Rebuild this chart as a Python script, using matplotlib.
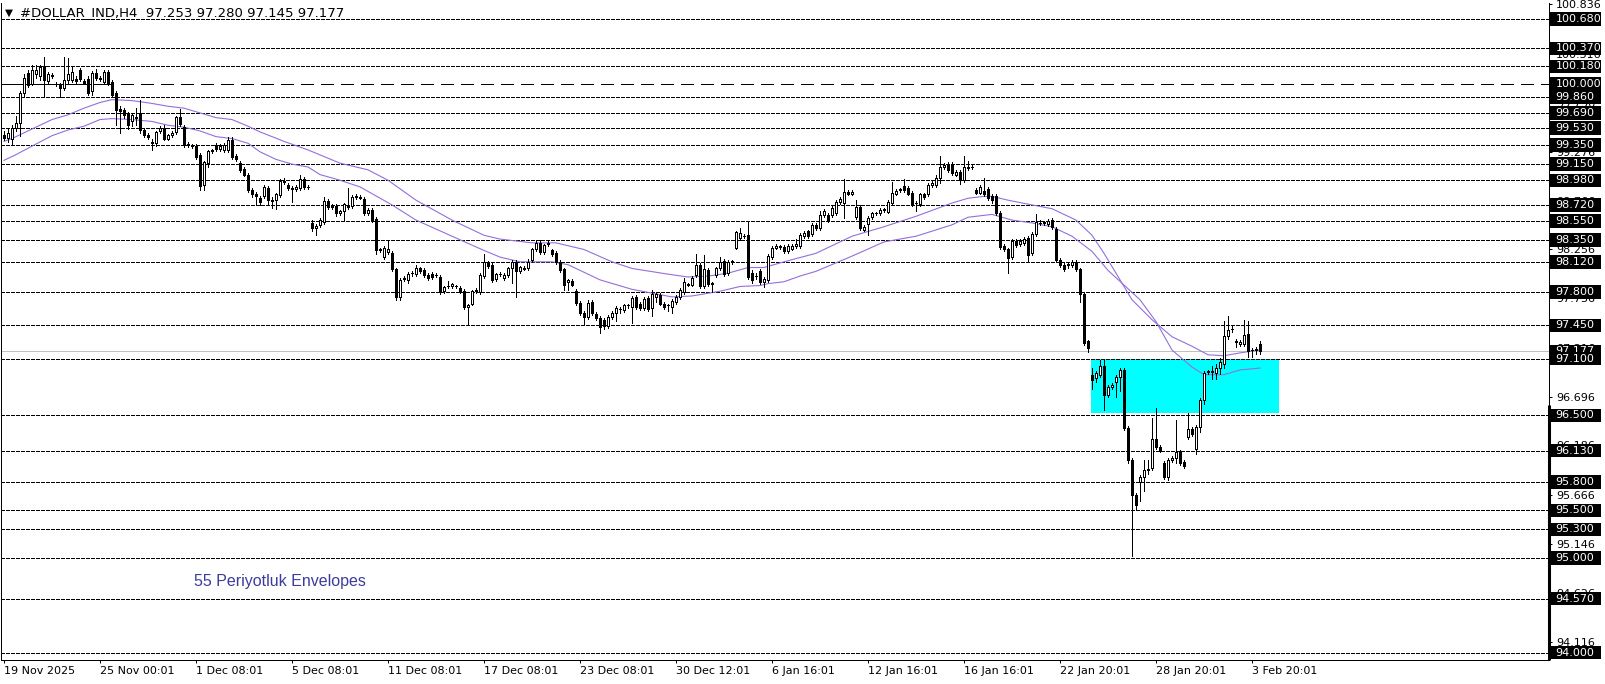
import matplotlib
matplotlib.use("Agg")
import matplotlib.pyplot as plt
from matplotlib.patches import Rectangle
from matplotlib.transforms import blended_transform_factory

# H4 candles, 19 Nov 2025 -> 4 Feb 2026
opens = [
    99.46, 99.43, 99.42, 99.53, 99.58, 99.90, 100.11, 100.00, 100.10, 100.08,
    100.18, 100.03, 100.09, 100.00, 99.99, 99.95, 100.04, 100.04, 100.05, 100.14,
    100.03, 100.05, 99.92, 100.11, 100.06, 100.02, 100.12, 100.02, 99.90, 99.73,
    99.72, 99.68, 99.60, 99.65, 99.68, 99.51, 99.46, 99.38, 99.37, 99.50,
    99.53, 99.42, 99.46, 99.49, 99.65, 99.54, 99.36, 99.34, 99.34, 99.25,
    98.93, 99.16, 99.29, 99.35, 99.31, 99.30, 99.30, 99.40, 99.24, 99.16,
    99.10, 99.04, 98.88, 98.84, 98.79, 98.81, 98.90, 98.77, 98.77, 98.82,
    98.96, 98.93, 98.90, 98.89, 98.90, 98.99, 98.91, 98.53, 98.48, 98.51,
    98.54, 98.76, 98.70, 98.71, 98.63, 98.66, 98.70, 98.71, 98.80, 98.80,
    98.78, 98.63, 98.67, 98.57, 98.24, 98.17, 98.22, 98.21, 98.04, 97.75,
    97.94, 97.93, 98.00, 97.99, 98.05, 98.03, 97.98, 97.99, 97.98, 97.96,
    97.81, 97.86, 97.86, 97.86, 97.84, 97.81, 97.64, 97.68, 97.81, 97.80,
    97.97, 98.11, 98.09, 97.94, 97.99, 97.95, 97.98, 98.05, 98.12, 98.02,
    98.06, 98.05, 98.14, 98.25, 98.32, 98.22, 98.31, 98.24, 98.21, 98.12,
    98.04, 97.91, 97.92, 97.81, 97.69, 97.58, 97.54, 97.70, 97.57, 97.53,
    97.51, 97.44, 97.54, 97.58, 97.62, 97.61, 97.66, 97.64, 97.75, 97.68,
    97.63, 97.74, 97.63, 97.75, 97.77, 97.68, 97.66, 97.64, 97.70, 97.75,
    97.80, 97.88, 97.88, 97.98, 98.09, 97.86, 98.03, 97.89, 97.98, 98.05,
    98.13, 98.00, 98.12, 98.27, 98.37, 98.39, 98.40, 98.00, 97.97, 98.02,
    97.91, 97.93, 98.17, 98.27, 98.28, 98.28, 98.23, 98.26, 98.29, 98.29,
    98.39, 98.44, 98.41, 98.51, 98.48, 98.61, 98.61, 98.61, 98.63, 98.75,
    98.74, 98.86, 98.84, 98.59, 98.70, 98.46, 98.52, 98.59, 98.63, 98.63,
    98.67, 98.65, 98.74, 98.84, 98.88, 98.92, 98.90, 98.85, 98.74, 98.73,
    98.83, 98.83, 98.93, 98.93, 99.00, 99.12, 99.15, 99.15, 99.04, 99.07,
    98.98, 99.11, 99.12, 98.88, 98.85, 98.87, 98.89, 98.81, 98.81, 98.64,
    98.29, 98.25, 98.17, 98.34, 98.31, 98.32, 98.37, 98.21, 98.41, 98.53,
    98.53, 98.52, 98.56, 98.47, 98.14, 98.09, 98.09, 98.09, 98.12, 98.04,
    97.78, 97.28, 96.93, 96.90, 96.93, 97.02, 96.72, 96.80, 96.85, 96.91,
    96.98, 96.37, 96.03, 95.66, 95.80, 95.85, 95.93, 95.95, 96.25, 96.17,
    96.00, 95.85, 96.03, 96.05, 96.12, 96.01, 96.27, 96.36, 96.15, 96.38,
    96.66, 96.96, 96.96, 96.95, 97.00, 97.04, 97.34, 97.41, 97.29, 97.25,
    97.25, 97.36, 97.19, 97.19, 97.253,
]
highs = [
    99.50, 99.52, 99.56, 99.66, 99.92, 100.10, 100.14, 100.20, 100.20, 100.20,
    100.28, 100.12, 100.11, 100.02, 100.01, 100.28, 100.27, 100.17, 100.08, 100.16,
    100.05, 100.08, 100.13, 100.15, 100.08, 100.14, 100.14, 100.04, 99.92, 99.76,
    99.74, 99.70, 99.69, 99.74, 99.83, 99.53, 99.48, 99.42, 99.50, 99.55,
    99.56, 99.47, 99.50, 99.66, 99.73, 99.56, 99.38, 99.36, 99.36, 99.27,
    99.18, 99.30, 99.31, 99.37, 99.36, 99.37, 99.44, 99.44, 99.26, 99.18,
    99.12, 99.06, 98.90, 98.86, 98.81, 98.93, 98.92, 98.80, 98.85, 98.99,
    99.00, 98.95, 98.92, 98.93, 99.04, 99.01, 98.93, 98.56, 98.52, 98.58,
    98.80, 98.78, 98.73, 98.73, 98.67, 98.74, 98.90, 98.82, 98.83, 98.82,
    98.80, 98.69, 98.69, 98.59, 98.27, 98.29, 98.35, 98.23, 98.06, 97.95,
    97.97, 98.01, 98.02, 98.09, 98.07, 98.05, 98.00, 98.01, 98.00, 97.98,
    97.87, 97.92, 97.90, 97.88, 97.86, 97.83, 97.68, 97.82, 97.84, 98.00,
    98.20, 98.13, 98.11, 98.00, 98.01, 98.00, 98.07, 98.14, 98.14, 98.08,
    98.08, 98.15, 98.27, 98.35, 98.35, 98.31, 98.34, 98.26, 98.23, 98.14,
    98.06, 97.94, 97.94, 97.83, 97.71, 97.60, 97.72, 97.72, 97.59, 97.55,
    97.53, 97.56, 97.60, 97.65, 97.64, 97.68, 97.68, 97.76, 97.77, 97.70,
    97.75, 97.76, 97.82, 97.80, 97.79, 97.70, 97.68, 97.73, 97.77, 97.84,
    97.95, 97.90, 97.97, 98.20, 98.11, 98.19, 98.05, 97.91, 98.07, 98.17,
    98.15, 98.14, 98.14, 98.45, 98.48, 98.41, 98.54, 98.03, 98.00, 98.04,
    97.96, 98.20, 98.29, 98.31, 98.30, 98.30, 98.31, 98.31, 98.36, 98.42,
    98.44, 98.46, 98.53, 98.53, 98.66, 98.68, 98.63, 98.71, 98.77, 98.80,
    98.99, 98.88, 98.88, 98.77, 98.72, 98.51, 98.60, 98.65, 98.65, 98.69,
    98.69, 98.77, 98.96, 98.89, 98.90, 98.99, 98.92, 98.87, 98.76, 98.85,
    98.85, 98.95, 98.97, 99.04, 99.24, 99.16, 99.17, 99.17, 99.09, 99.09,
    99.24, 99.18, 99.14, 98.90, 98.93, 99.00, 98.91, 98.83, 98.83, 98.66,
    98.31, 98.27, 98.36, 98.36, 98.36, 98.38, 98.39, 98.43, 98.62, 98.56,
    98.55, 98.57, 98.58, 98.49, 98.16, 98.11, 98.12, 98.14, 98.14, 98.06,
    97.80, 97.30, 97.00, 96.97, 97.09, 97.10, 96.82, 96.84, 96.93, 97.00,
    97.00, 96.39, 96.05, 95.68, 95.87, 96.03, 96.03, 96.47, 96.58, 96.19,
    96.02, 96.05, 96.07, 96.45, 96.14, 96.03, 96.53, 96.38, 96.40, 96.68,
    96.97, 96.98, 97.02, 97.04, 97.11, 97.50, 97.55, 97.44, 97.31, 97.30,
    97.51, 97.50, 97.21, 97.22, 97.280,
]
lows = [
    99.40, 99.38, 99.35, 99.50, 99.45, 99.86, 99.96, 99.98, 100.06, 100.04,
    99.87, 100.00, 100.06, 99.97, 99.86, 99.93, 99.99, 100.02, 100.00, 100.03,
    99.99, 99.88, 99.88, 100.04, 100.03, 100.00, 99.98, 99.86, 99.56, 99.48,
    99.64, 99.52, 99.55, 99.56, 99.48, 99.44, 99.42, 99.30, 99.34, 99.48,
    99.40, 99.40, 99.44, 99.47, 99.55, 99.33, 99.33, 99.32, 99.20, 98.88,
    98.88, 99.12, 99.27, 99.29, 99.29, 99.28, 99.28, 99.20, 99.18, 99.07,
    99.02, 98.86, 98.80, 98.72, 98.72, 98.79, 98.72, 98.69, 98.68, 98.80,
    98.94, 98.88, 98.75, 98.87, 98.88, 98.89, 98.89, 98.45, 98.40, 98.49,
    98.52, 98.68, 98.68, 98.60, 98.61, 98.56, 98.68, 98.69, 98.78, 98.78,
    98.61, 98.61, 98.54, 98.20, 98.22, 98.15, 98.20, 98.02, 97.72, 97.72,
    97.92, 97.90, 97.97, 97.97, 98.00, 97.96, 97.93, 97.94, 97.96, 97.78,
    97.79, 97.84, 97.84, 97.84, 97.79, 97.62, 97.46, 97.66, 97.79, 97.78,
    97.95, 98.06, 97.91, 97.92, 97.97, 97.93, 97.96, 97.90, 97.75, 98.00,
    98.03, 98.03, 98.12, 98.23, 98.20, 98.20, 98.29, 98.18, 98.10, 98.01,
    97.82, 97.82, 97.86, 97.67, 97.56, 97.46, 97.52, 97.56, 97.51, 97.37,
    97.41, 97.42, 97.52, 97.50, 97.58, 97.59, 97.63, 97.47, 97.62, 97.61,
    97.61, 97.60, 97.55, 97.70, 97.66, 97.62, 97.60, 97.58, 97.68, 97.73,
    97.78, 97.86, 97.86, 97.96, 97.84, 97.84, 97.87, 97.80, 97.96, 98.03,
    97.97, 97.98, 98.10, 98.25, 98.35, 98.37, 97.94, 97.90, 97.94, 97.89,
    97.85, 97.91, 98.15, 98.25, 98.26, 98.21, 98.21, 98.24, 98.27, 98.27,
    98.37, 98.37, 98.39, 98.46, 98.46, 98.59, 98.54, 98.59, 98.61, 98.73,
    98.58, 98.82, 98.82, 98.57, 98.46, 98.44, 98.40, 98.57, 98.61, 98.61,
    98.65, 98.63, 98.72, 98.82, 98.86, 98.86, 98.82, 98.71, 98.66, 98.71,
    98.78, 98.81, 98.91, 98.91, 98.95, 99.10, 99.07, 99.04, 99.02, 98.94,
    98.96, 99.09, 99.10, 98.83, 98.83, 98.81, 98.77, 98.74, 98.61, 98.26,
    98.23, 98.00, 98.15, 98.28, 98.29, 98.30, 98.13, 98.19, 98.39, 98.51,
    98.51, 98.50, 98.47, 98.12, 98.07, 98.02, 98.06, 98.07, 98.02, 97.70,
    97.24, 97.17, 96.78, 96.85, 96.91, 96.56, 96.70, 96.78, 96.70, 96.76,
    96.35, 96.00, 95.02, 95.50, 95.60, 95.70, 95.88, 95.93, 96.15, 96.12,
    95.83, 95.82, 96.01, 96.00, 95.98, 95.95, 96.25, 96.28, 96.09, 96.33,
    96.62, 96.94, 96.88, 96.88, 96.94, 97.00, 97.31, 97.38, 97.22, 97.23,
    97.23, 97.12, 97.12, 97.15, 97.145,
]
closes = [
    99.43, 99.48, 99.53, 99.58, 99.90, 100.06, 99.98, 100.14, 100.14, 100.17,
    100.04, 100.10, 100.08, 99.99, 99.95, 100.04, 100.10, 100.12, 100.03, 100.05,
    100.01, 99.90, 100.11, 100.06, 100.05, 100.12, 100.00, 99.88, 99.72, 99.71,
    99.67, 99.56, 99.67, 99.64, 99.51, 99.46, 99.44, 99.37, 99.49, 99.53,
    99.42, 99.46, 99.48, 99.65, 99.57, 99.35, 99.35, 99.34, 99.22, 98.92,
    99.17, 99.29, 99.30, 99.31, 99.34, 99.35, 99.40, 99.22, 99.20, 99.09,
    99.04, 98.88, 98.83, 98.81, 98.75, 98.91, 98.77, 98.76, 98.83, 98.97,
    98.97, 98.90, 98.89, 98.91, 98.99, 98.91, 98.91, 98.48, 98.50, 98.56,
    98.76, 98.70, 98.71, 98.63, 98.66, 98.73, 98.71, 98.80, 98.81, 98.79,
    98.63, 98.67, 98.56, 98.24, 98.25, 98.27, 98.26, 98.04, 97.75, 97.93,
    97.95, 97.99, 98.00, 98.05, 98.02, 97.98, 97.95, 97.96, 97.98, 97.81,
    97.85, 97.87, 97.89, 97.86, 97.81, 97.64, 97.67, 97.81, 97.82, 97.98,
    98.12, 98.08, 97.93, 97.99, 97.99, 97.98, 98.05, 98.12, 98.02, 98.07,
    98.04, 98.12, 98.26, 98.32, 98.22, 98.30, 98.32, 98.20, 98.12, 98.03,
    97.88, 97.93, 97.88, 97.69, 97.58, 97.54, 97.69, 97.58, 97.53, 97.43,
    97.44, 97.54, 97.58, 97.63, 97.62, 97.66, 97.66, 97.74, 97.64, 97.63,
    97.73, 97.62, 97.78, 97.78, 97.68, 97.64, 97.66, 97.71, 97.75, 97.82,
    97.91, 97.88, 97.95, 98.09, 97.86, 98.04, 97.89, 97.89, 98.05, 98.12,
    97.99, 98.12, 98.12, 98.43, 98.42, 98.39, 97.96, 97.93, 97.97, 97.91,
    97.94, 98.18, 98.27, 98.29, 98.28, 98.23, 98.29, 98.29, 98.31, 98.40,
    98.42, 98.39, 98.51, 98.48, 98.61, 98.66, 98.56, 98.69, 98.75, 98.78,
    98.86, 98.84, 98.86, 98.70, 98.48, 98.49, 98.58, 98.63, 98.63, 98.67,
    98.67, 98.75, 98.85, 98.87, 98.88, 98.88, 98.84, 98.73, 98.74, 98.83,
    98.80, 98.93, 98.95, 99.00, 99.12, 99.14, 99.09, 99.06, 99.07, 98.98,
    99.12, 99.12, 99.12, 98.85, 98.91, 98.83, 98.79, 98.77, 98.63, 98.28,
    98.25, 98.16, 98.34, 98.30, 98.34, 98.36, 98.19, 98.41, 98.54, 98.53,
    98.54, 98.55, 98.49, 98.14, 98.09, 98.04, 98.09, 98.12, 98.04, 97.78,
    97.26, 97.21, 96.87, 96.95, 97.02, 96.72, 96.80, 96.82, 96.91, 96.98,
    96.37, 96.03, 95.66, 95.56, 95.85, 95.93, 95.94, 96.25, 96.17, 96.14,
    95.85, 96.03, 96.05, 96.11, 96.00, 95.97, 96.36, 96.30, 96.38, 96.66,
    96.95, 96.96, 96.96, 97.00, 97.06, 97.34, 97.40, 97.41, 97.27, 97.27,
    97.35, 97.18, 97.19, 97.20, 97.177,
]

# 55 period envelopes (upper / lower band), sampled at bar numbers
upper_bars = [0, 2, 7, 12, 16, 20, 24, 27, 32, 37, 41, 45, 49, 53, 57, 61, 64, 70, 76, 84, 91, 96,
              103, 112, 120, 124, 132, 138, 145, 152, 157, 166, 171, 176, 181, 186, 190, 195, 203,
              212, 220, 228, 237, 241, 245, 247, 251, 257, 262, 268, 272, 275, 282, 287, 292, 297,
              301, 305, 309, 314]
upper_vals = [99.39, 99.42, 99.52, 99.62, 99.67, 99.74, 99.80, 99.83, 99.82, 99.79, 99.76, 99.74,
              99.69, 99.64, 99.62, 99.55, 99.49, 99.39, 99.30, 99.16, 99.09, 98.98, 98.77, 98.56,
              98.40, 98.36, 98.32, 98.32, 98.25, 98.12, 98.05, 97.99, 97.96, 97.97, 98.00, 98.06,
              98.06, 98.12, 98.21, 98.39, 98.49, 98.60, 98.74, 98.79, 98.81, 98.81, 98.77, 98.72,
              98.68, 98.56, 98.40, 98.21, 97.72, 97.51, 97.33, 97.23, 97.14, 97.13, 97.16, 97.19]
lower_bars = [0, 3, 7, 12, 16, 20, 24, 27, 32, 37, 41, 45, 49, 53, 57, 61, 64, 68, 72, 76, 79, 84,
              89, 97, 103, 112, 120, 124, 129, 137, 141, 149, 157, 162, 167, 172, 179, 184, 189,
              191, 195, 199, 203, 212, 220, 228, 237, 241, 247, 252, 257, 262, 267, 272, 276, 284,
              288, 292, 297, 300, 305, 309, 314]
lower_vals = [99.19, 99.25, 99.34, 99.45, 99.51, 99.55, 99.62, 99.63, 99.62, 99.60, 99.56, 99.54,
              99.50, 99.44, 99.42, 99.37, 99.28, 99.20, 99.15, 99.12, 99.04, 98.98, 98.91, 98.72,
              98.56, 98.39, 98.24, 98.17, 98.12, 98.12, 98.09, 97.93, 97.83, 97.79, 97.75, 97.76,
              97.81, 97.86, 97.87, 97.89, 97.91, 97.97, 98.02, 98.18, 98.33, 98.39, 98.51, 98.59,
              98.62, 98.56, 98.53, 98.49, 98.39, 98.23, 98.03, 97.72, 97.49, 97.19, 97.01, 96.93,
              96.93, 96.98, 97.00]

# horizontal levels drawn on the chart
levels = [100.68, 100.37, 100.18, 99.86, 99.69, 99.53, 99.35, 99.15, 98.98, 98.72, 98.55,
          98.35, 98.12, 97.80, 97.45, 97.10, 96.50, 96.13, 95.80, 95.50, 95.30, 95.00,
          94.57, 94.00]
round_level = 100.00
round_seg_end = 27
last_price = closes[-1]

# cyan zone
zone_start, zone_end = 271.75, 318.75
zone_top, zone_bottom = 97.094, 96.526

price_ticks = [100.836, 100.316, 99.796, 99.276, 98.766, 98.256, 97.736, 97.216, 96.696,
               96.186, 95.666, 95.146, 94.626, 94.116]
date_bars = [0, 24, 48, 72, 96, 120, 144, 168, 192, 216, 240, 264, 288, 312]
date_labels = ["19 Nov 2025", "25 Nov 00:01", "1 Dec 08:01", "5 Dec 08:01", "11 Dec 08:01",
               "17 Dec 08:01", "23 Dec 08:01", "30 Dec 12:01", "6 Jan 16:01", "12 Jan 16:01",
               "16 Jan 16:01", "22 Jan 20:01", "28 Jan 20:01", "3 Feb 20:01"]

PX = 0.72  # one pixel in points at dpi 100
W, H = 1606, 684
AXW = 1547.5
PPU = 94.85  # pixels per 1.0 of price

fig = plt.figure(figsize=(W / 100, H / 100), dpi=100)
ax = fig.add_axes([1.5 / W, 24 / H, AXW / W, 657.3 / H])
ax.set_xlim(-0.625, 386.25)
ax.set_ylim(93.922, 100.852)
for s in ["left", "bottom", "right"]:
    ax.spines[s].set_linewidth(PX)
ax.spines["top"].set_visible(False)

# zone
ax.add_patch(Rectangle((zone_start, zone_bottom), zone_end - zone_start, zone_top - zone_bottom,
                       facecolor="#00ffff", edgecolor="none", zorder=1))

# levels
for lv in levels:
    ax.axhline(lv, color="black", lw=PX, linestyle=(0, (3, 2)), antialiased=False, zorder=1.5)
ax.axhline(round_level, color="black", lw=PX, linestyle=(0, (13, 7)), antialiased=False, zorder=1.5)
ax.hlines(round_level, -0.625, round_seg_end, color="black", lw=PX, antialiased=False, zorder=1.5)
ax.axhline(last_price, color="#c0c0c0", lw=PX, antialiased=False, zorder=1.5)

# envelopes
ax.plot(upper_bars, upper_vals, color="#9370db", lw=0.8, zorder=2)
ax.plot(lower_bars, lower_vals, color="#9370db", lw=0.8, zorder=2)

# candles
xs = list(range(len(closes)))
ax.vlines(xs, lows, highs, color="black", lw=PX, antialiased=False, zorder=3)
bottoms = [min(o, c) for o, c in zip(opens, closes)]
heights = [max(abs(c - o), 0.004) for o, c in zip(opens, closes)]
faces = ["white" if c >= o else "black" for o, c in zip(opens, closes)]
ax.bar(xs, heights, bottom=bottoms, width=0.62, color=faces, edgecolor="black",
       linewidth=PX, antialiased=False, zorder=4)

ax.text(47.6, 94.75, "55 Periyotluk Envelopes", color="#3c3c9c", fontsize=11.5,
        family="Liberation Sans", va="center", ha="left", zorder=5)

# right price scale
ax.yaxis.tick_right()
ax.set_yticks(price_ticks)
ax.set_yticklabels(["%.3f" % v for v in price_ticks])
ax.tick_params(axis="y", direction="out", length=3 * PX, width=PX, pad=4 * PX,
               labelsize=8, colors="black")
ax.set_xticks(date_bars)
ax.set_xticklabels(date_labels, ha="left")
ax.tick_params(axis="x", direction="out", length=3 * PX, width=PX, pad=3 * PX,
               labelsize=8, colors="black")

# black price boxes for the levels on the scale
tr = blended_transform_factory(ax.transAxes, ax.transData)
box_x0 = (1550.5 - 1.5) / AXW
box_w = 50.5 / AXW
box_h = 13.5 / PPU
txt_x = (1555.5 - 1.5) / AXW
z = 10
for lv in [last_price] + levels + [round_level]:
    ax.add_patch(Rectangle((box_x0, lv - box_h / 2), box_w, box_h, transform=tr,
                           facecolor="black", edgecolor="none", clip_on=False, zorder=z))
    ax.text(txt_x, lv, "%.3f" % lv, transform=tr, color="white", fontsize=8,
            va="center", ha="left", zorder=z + 1, clip_on=False)
    z += 2
ax.plot([1, 1], [96.61, 93.922], transform=tr, color="black", lw=2.2, clip_on=False,
        solid_capstyle="butt", zorder=z)

# header
fig.text(5 / W, 1 - 12.5 / H, "\u25bc", fontsize=7.5, va="center", ha="left")
fig.text(20.5 / W, 1 - 12.5 / H,
         "#DOLLAR_IND,H4  %.3f %.3f %.3f %.3f" % (opens[-1], highs[-1], lows[-1], closes[-1]),
         fontsize=9.5, va="center", ha="left")

fig.savefig("out.png", dpi=100)
